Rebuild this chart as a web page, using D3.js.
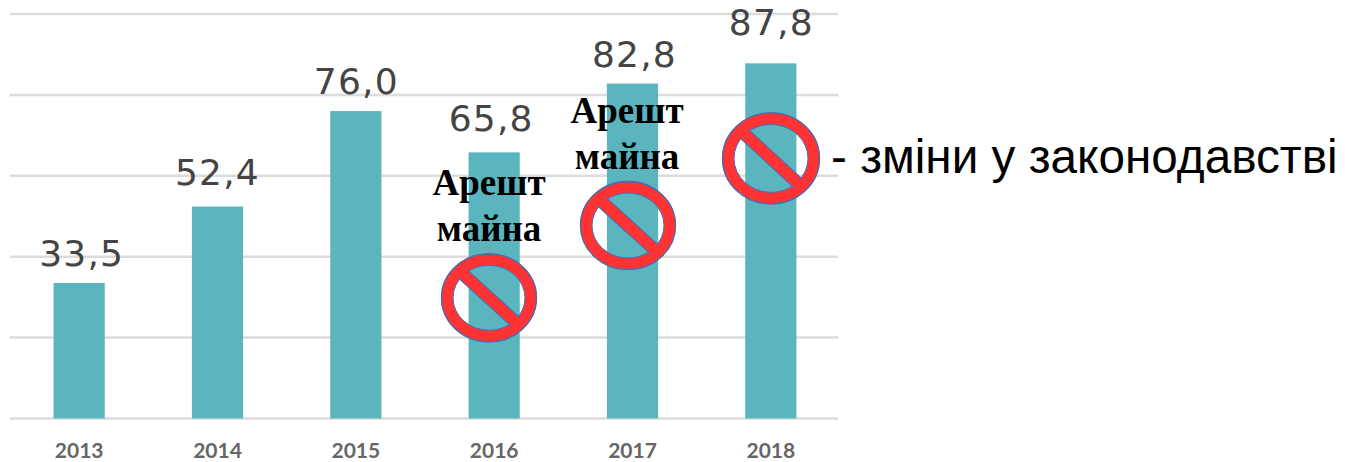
<!DOCTYPE html>
<html><head><meta charset="utf-8">
<script src="https://cdn.jsdelivr.net/npm/d3@7/dist/d3.min.js"></script>
<style>html,body{margin:0;padding:0;background:#fff;overflow:hidden}svg{display:block}</style>
</head><body><svg id="c" width="1345" height="462"></svg>
<script>
const years = ["2013","2014","2015","2016","2017","2018"];
const values = [33.5,52.4,76.0,65.8,82.8,87.8];
const valueLabels = ["33,5","52,4","76,0","65,8","82,8","87,8"];
const gridTicks = [0,20,40,60,80,100];
const seizureYears = ["2016","2017"];
const seizureLines = ["Арешт","майна"];
const legendText = "- зміни у законодавстві";

const svg = d3.select("#c");
const x = d3.scaleBand().domain(years).range([10,840]).paddingInner(0.63).paddingOuter(0.315);
const y = d3.scaleLinear().domain([0,100]).range([418.5,14]);
const cx = d => x(d)+x.bandwidth()/2;

svg.append("g").selectAll("line").data(gridTicks).join("line")
  .attr("x1",10).attr("x2",838).attr("y1",d=>y(d)).attr("y2",d=>y(d))
  .attr("stroke","#dcdcdc").attr("stroke-width",2.5);

svg.append("g").selectAll("rect").data(years).join("rect")
  .attr("x",d=>x(d)).attr("width",x.bandwidth())
  .attr("y",(d,i)=>y(values[i])).attr("height",(d,i)=>y(0)-y(values[i]))
  .attr("fill","#5ab5bf");

svg.append("g").selectAll("text").data(years).join("text")
  .attr("x",cx).attr("y",457.5)
  .attr("text-anchor","middle").attr("font-family","Lato,sans-serif")
  .attr("font-weight",700).attr("font-size",21).attr("fill","#666").text(d=>d);

// label placement relative to each bar's centre and top, as seen in the reference
const labelDx = {"2013":2.5,"2014":0,"2015":0.5,"2016":-3,"2017":2,"2018":0.5};
const labelDy = {"2013":17,"2014":22,"2015":17,"2016":21,"2017":17,"2018":28};
svg.append("g").selectAll("text").data(years).join("text")
  .attr("x",d=>cx(d)+labelDx[d]).attr("y",(d,i)=>y(values[i])-labelDy[d])
  .attr("text-anchor","middle").attr("font-family","'DejaVu Sans',sans-serif")
  .attr("font-size",36).attr("letter-spacing",1.2)
  .attr("fill","#444").text((d,i)=>valueLabels[i]);

function noSign(g,sx,sy,rx,ry){
  g.append("ellipse").attr("cx",sx).attr("cy",sy).attr("rx",rx-6).attr("ry",ry-6)
    .attr("fill","none").attr("stroke","#ff3333").attr("stroke-width",12);
  g.append("ellipse").attr("cx",sx).attr("cy",sy).attr("rx",rx-0.5).attr("ry",ry-0.5)
    .attr("fill","none").attr("stroke","#3f6fb5").attr("stroke-width",1.3);
  g.append("ellipse").attr("cx",sx).attr("cy",sy).attr("rx",rx-12).attr("ry",ry-12)
    .attr("fill","none").attr("stroke","#3f6fb5").attr("stroke-width",1);
  const d=0.7071, ax=(rx-10)*d, ay=(ry-10)*d;
  g.append("line").attr("x1",sx-ax).attr("y1",sy-ay).attr("x2",sx+ax).attr("y2",sy+ay)
    .attr("stroke","#3f6fb5").attr("stroke-width",13);
  g.append("line").attr("x1",sx-ax-1).attr("y1",sy-ay-1).attr("x2",sx+ax+1).attr("y2",sy+ay+1)
    .attr("stroke","#ff3333").attr("stroke-width",11);
}

const signs = svg.append("g");
const signX = {"2016":489,"2017":628};
const signY = {"2016":297.8,"2017":225.5};
const textX = {"2016":489,"2017":627};
const textY = {"2016":195,"2017":123};
seizureYears.forEach(yr=>{
  noSign(signs,signX[yr],signY[yr],48,44.5);
  seizureLines.forEach((t,i)=>{
    signs.append("text").attr("x",textX[yr]).attr("y",textY[yr]+i*45.5)
      .attr("text-anchor","middle").attr("font-family","'Liberation Serif',serif")
      .attr("font-weight",700).attr("font-size",37).attr("fill","#000").text(t);
  });
});
noSign(signs,771,158.4,49,46);

svg.append("text").attr("x",831).attr("y",173)
  .attr("font-family","'Liberation Sans',Arial,sans-serif").attr("font-size",47.7)
  .attr("fill","#000").text(legendText);
</script></body></html>
